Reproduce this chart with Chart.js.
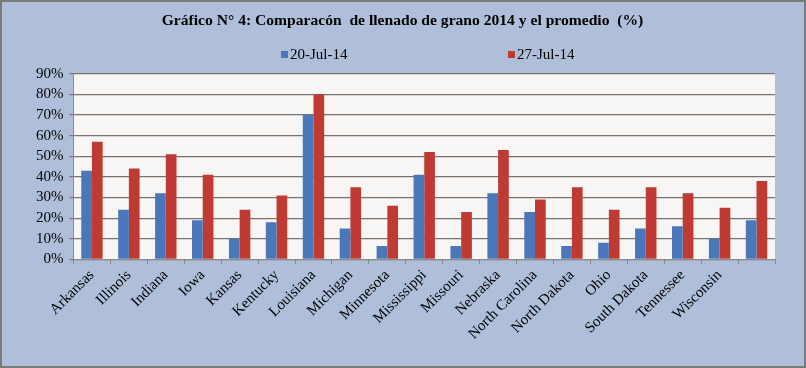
<!DOCTYPE html>
<html>
<head>
<meta charset="utf-8">
<script src="https://cdn.jsdelivr.net/npm/chart.js@4/dist/chart.umd.min.js"></script>
<style>
  html, body { margin: 0; padding: 0; background: #afbfd9; }
  #wrap { width: 806px; height: 368px; position: relative; }
</style>
</head>
<body>
<div id="wrap"><canvas id="myChart" width="806" height="368"></canvas></div>
<script>
// data (percent)
const states = [
  "Arkansas", "Illinois", "Indiana", "Iowa", "Kansas", "Kentucky", "Louisiana",
  "Michigan", "Minnesota", "Mississippi", "Missouri", "Nebraska", "North Carolina",
  "North Dakota", "Ohio", "South Dakota", "Tennessee", "Wisconsin", ""
];
const jul20 = [43, 24, 32, 19, 10, 18, 70, 15, 6.5, 41, 6.5, 32, 23, 6.5, 8, 15, 16, 10, 19];
const jul27 = [57, 44, 51, 41, 24, 31, 80, 35, 26, 52, 23, 53, 29, 35, 24, 35, 32, 25, 38];
const seriesNames = ["20-Jul-14", "27-Jul-14"];
const yTicks = [0, 10, 20, 30, 40, 50, 60, 70, 80, 90];

const serif = "'Liberation Serif', 'Times New Roman', serif";

// background, plot area fill and frame
const bgPlugin = {
  id: "bg",
  beforeDraw(chart) {
    const { ctx, chartArea: a } = chart;
    ctx.save();
    ctx.fillStyle = "#afbfd9";
    ctx.fillRect(0, 0, chart.width, chart.height);
    ctx.fillStyle = "#f8f6f4";
    ctx.fillRect(a.left, a.top, a.right - a.left, a.bottom - a.top);
    ctx.restore();
  },
  afterDraw(chart) {
    const ctx = chart.ctx;
    ctx.save();
    ctx.strokeStyle = "#7a7a7a";
    ctx.lineWidth = 2;
    ctx.strokeRect(1, 1, chart.width - 2, chart.height - 2);
    ctx.restore();
  }
};

// wide-spaced legend like the original
const legendPlugin = {
  id: "wideLegend",
  afterDraw(chart) {
    const ctx = chart.ctx;
    const xs = [281, 508];
    ctx.save();
    ctx.font = "15px " + serif;
    ctx.textBaseline = "middle";
    chart.data.datasets.forEach((ds, i) => {
      ctx.fillStyle = ds.backgroundColor;
      ctx.fillRect(xs[i], 51, 7, 7);
      ctx.fillStyle = "#000";
      ctx.fillText(ds.label, xs[i] + 9, 55);
    });
    ctx.restore();
  }
};

const ctx = document.getElementById("myChart").getContext("2d");
new Chart(ctx, {
  type: "bar",
  data: {
    labels: states,
    datasets: [
      { label: seriesNames[0], data: jul20, backgroundColor: "#4a77b9" },
      { label: seriesNames[1], data: jul27, backgroundColor: "#bf3a33" }
    ]
  },
  options: {
    responsive: false,
    animation: false,
    layout: { padding: { left: 30, right: 31, top: 0, bottom: 23 } },
    datasets: { bar: { categoryPercentage: 0.58, barPercentage: 1.0 } },
    plugins: {
      legend: { display: false },
      tooltip: { enabled: false },
      title: {
        display: true,
        text: "Gráfico N° 4: Comparacón  de llenado de grano 2014 y el promedio  (%)",
        color: "#000",
        font: { family: serif, size: 15.6, weight: "bold" },
        padding: { top: 12, bottom: 43 }
      }
    },
    scales: {
      x: {
        offset: true,
        grid: { offset: true, drawOnChartArea: false, tickLength: 5, color: "#8a8a8a" },
        border: { color: "#8a8a8a" },
        ticks: {
          color: "#000",
          font: { family: serif, size: 15 },
          minRotation: 45,
          maxRotation: 45,
          autoSkip: false,
          padding: 2
        }
      },
      y: {
        min: 0,
        max: 90,
        afterBuildTicks(axis) { axis.ticks = yTicks.map(v => ({ value: v })); },
        grid: { color: "#77716f", lineWidth: 1.2, tickLength: 4 },
        border: { color: "#8a8a8a" },
        ticks: {
          color: "#000",
          font: { family: serif, size: 15 },
          padding: 6,
          autoSkip: false,
          callback: v => v + "%"
        }
      }
    }
  },
  plugins: [bgPlugin, legendPlugin]
});
</script>
</body>
</html>
